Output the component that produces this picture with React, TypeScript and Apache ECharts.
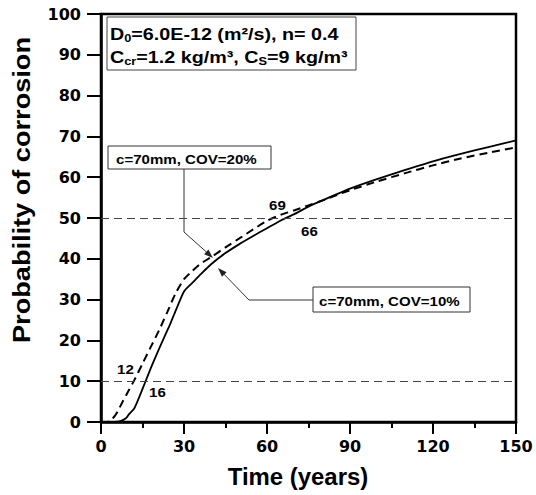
import React, { useEffect, useRef } from "react";
import * as echarts from "echarts";

// COV = 20% (dashed)
const years20 = [0, 2, 3, 4, 5, 6, 8, 10, 12, 15, 18, 21, 24, 27, 30, 33, 36, 40, 45, 50, 55, 60, 65, 70, 75, 80, 90, 100, 110, 120, 130, 140, 150];
const prob20 = [0, 0, 0.2, 0.7, 1.5, 2.6, 5.2, 7.7, 10.2, 14.3, 18.4, 22.5, 27, 31.6, 35, 37, 38.8, 40.5, 42.8, 45, 47.2, 49.3, 50.8, 51.9, 53.1, 54.3, 56.8, 59, 61, 62.9, 64.6, 66, 67.3];

// COV = 10% (solid)
const years10 = [0, 5, 7, 9, 10, 12, 14, 16, 18, 20, 23, 25, 27, 30, 33, 36, 40, 45, 50, 55, 60, 65, 70, 75, 80, 90, 100, 110, 120, 130, 140, 150];
const prob10 = [0, 0, 0.2, 0.9, 1.8, 3.3, 6.4, 9.8, 13.2, 16.4, 21, 24, 27.3, 32, 34.1, 36.2, 38.8, 41.4, 43.6, 45.6, 47.5, 49.4, 51, 52.8, 54.3, 57.2, 59.6, 61.8, 63.9, 65.7, 67.4, 69];

const refLevels = [10, 50];
const xRange = { min: 0, max: 150, interval: 30 };
const yRange = { min: 0, max: 100, interval: 10 };

const F = "'Liberation Sans', Arial, Helvetica, sans-serif";
const TICKF = "'DejaVu Sans', sans-serif";

function arrowHead(tx: number, ty: number, fx: number, fy: number) {
  const dx = tx - fx, dy = ty - fy;
  const len = Math.sqrt(dx * dx + dy * dy);
  const ux = dx / len, uy = dy / len;
  const L = 9, W = 3.2;
  const bx = tx - ux * L, by = ty - uy * L;
  return {
    type: "polygon",
    shape: { points: [[tx, ty], [bx - uy * W, by + ux * W], [bx + uy * W, by - ux * W]] },
    style: { fill: "#222" },
    silent: true,
  };
}

function label(text: string, x: number, y: number, size: number, sx = 1.16, rich?: any) {
  return {
    type: "text",
    x, y, scaleX: sx,
    style: {
      text, x: 0, y: 0, fill: "#000", fontSize: size, fontWeight: "bold", fontFamily: F,
      textAlign: "left", textVerticalAlign: "middle", lineHeight: size + 3, rich,
    },
    silent: true,
  };
}

export default function App() {
  const ref = useRef<HTMLDivElement>(null);
  useEffect(() => {
    const chart = echarts.init(ref.current!, null, { renderer: "svg" });
    const sub = { fontSize: 11, fontWeight: "bold", fontFamily: F, fill: "#000", lineHeight: 11, verticalAlign: "bottom" };
    const graphic: any[] = [
      { type: "rect", shape: { x: 107, y: 17, width: 249, height: 53 }, style: { fill: "#fff", stroke: "#444", lineWidth: 1 }, silent: true },
      label("D{s|0}=6.0E-12 (m²/s), n= 0.4", 110, 34, 17, 1.16, { s: sub }),
      label("C{s|cr}=1.2 kg/m³, C{s|S}=9 kg/m³", 110, 57, 17, 1.16, { s: sub }),
      { type: "rect", shape: { x: 108, y: 146, width: 163, height: 23 }, style: { fill: "#fff", stroke: "#333", lineWidth: 1 }, silent: true },
      label("c=70mm, COV=20%", 116, 159, 13),
      { type: "polyline", shape: { points: [[184, 169], [184, 232], [212, 257]] }, style: { stroke: "#333", lineWidth: 1, fill: null }, silent: true },
      arrowHead(213, 258, 184, 232),
      { type: "rect", shape: { x: 313, y: 287, width: 157, height: 25 }, style: { fill: "#fff", stroke: "#333", lineWidth: 1 }, silent: true },
      label("c=70mm, COV=10%", 319, 301, 13),
      { type: "polyline", shape: { points: [[313, 300], [249, 300], [219, 269]] }, style: { stroke: "#333", lineWidth: 1, fill: null }, silent: true },
      arrowHead(218, 268, 249, 300),
      label("69", 269, 205, 13),
      label("66", 301, 231, 13),
      label("12", 117, 369, 13),
      label("16", 149, 392, 13),
      {
        type: "text", x: 22, y: 190, rotation: Math.PI / 2, scaleX: 1.18, silent: true,
        style: { text: "Probability of corrosion", x: 0, y: 0, fill: "#000", fontSize: 23, fontWeight: "bold", fontFamily: F, textAlign: "center", textVerticalAlign: "middle" },
      },
      {
        type: "text", x: 298, y: 477, scaleX: 1.04, silent: true,
        style: { text: "Time (years)", x: 0, y: 0, fill: "#000", fontSize: 23, fontWeight: "bold", fontFamily: F, textAlign: "center", textVerticalAlign: "middle" },
      },
    ];

    chart.setOption({
      animation: false,
      backgroundColor: "#fff",
      grid: { left: 101, right: 20, top: 14, bottom: 73, show: true, borderColor: "#000", borderWidth: 2.5, backgroundColor: "transparent" },
      xAxis: {
        type: "value", ...xRange,
        axisLine: { show: true, onZero: false, lineStyle: { color: "#000", width: 2.5 } },
        axisTick: { show: true, inside: false, length: 12, lineStyle: { color: "#000", width: 2 } },
        minorTick: { show: true, splitNumber: 2, length: 6, lineStyle: { color: "#000", width: 2 } },
        axisLabel: { margin: 16, color: "#000", fontSize: 16, fontWeight: "bold", fontFamily: TICKF },
        splitLine: { show: false },
      },
      yAxis: {
        type: "value", ...yRange,
        axisLine: { show: true, onZero: false, lineStyle: { color: "#000", width: 2.5 } },
        axisTick: { show: true, inside: false, length: 14, lineStyle: { color: "#000", width: 2 } },
        axisLabel: { margin: 20, color: "#000", fontSize: 16, fontWeight: "bold", fontFamily: TICKF },
        splitLine: { show: false },
      },
      series: [
        {
          name: "c=70mm, COV=20%",
          type: "line",
          data: years20.map((t, i) => [t, prob20[i]]),
          showSymbol: false,
          symbol: "none",
          smooth: 0.2,
          lineStyle: { color: "#000", width: 2, type: [8, 5] },
          z: 3,
        },
        {
          name: "c=70mm, COV=10%",
          type: "line",
          data: years10.map((t, i) => [t, prob10[i]]),
          showSymbol: false,
          symbol: "none",
          smooth: 0.2,
          lineStyle: { color: "#000", width: 1.8 },
          z: 3,
          markLine: {
            silent: true,
            symbol: ["none", "none"],
            label: { show: false },
            lineStyle: { color: "#444", width: 1, type: [8, 5] },
            data: refLevels.map((v) => ({ yAxis: v })),
          },
        },
      ],
      graphic,
    });
    return () => chart.dispose();
  }, []);
  return <div ref={ref} style={{ position: "absolute", left: 0, top: 0, width: 536, height: 495 }} />;
}
